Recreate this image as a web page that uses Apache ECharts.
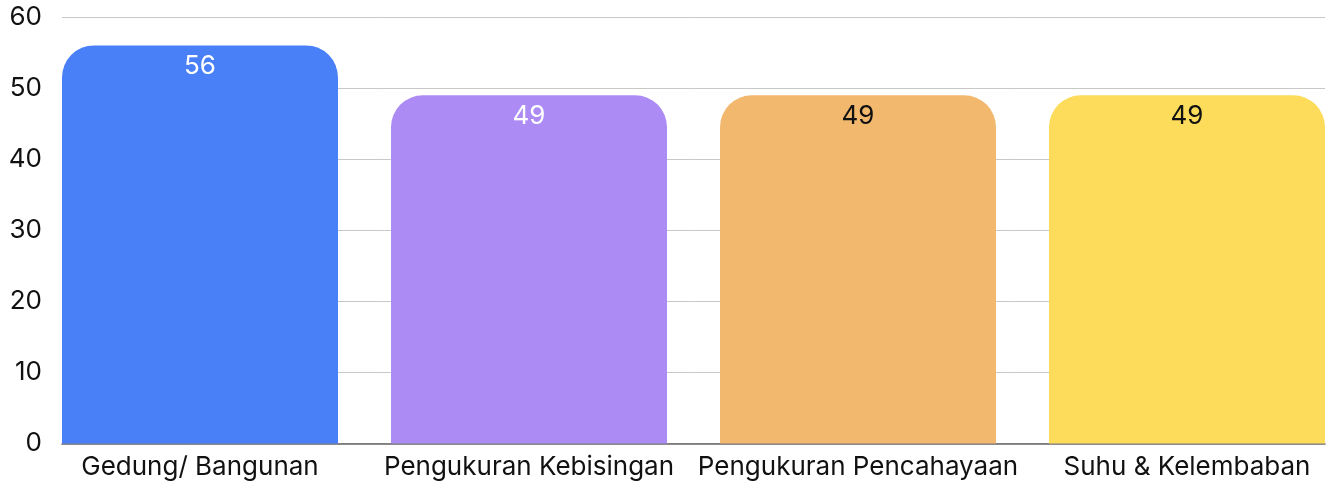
<!DOCTYPE html>
<html>
<head>
<meta charset="utf-8">
<script src="https://cdn.jsdelivr.net/npm/echarts@6/dist/echarts.min.js"></script>
<style>
  html, body { margin: 0; padding: 0; background: #fff; }
  #main { width: 1330px; height: 486px; }
</style>
</head>
<body>
<div id="main"></div>
<script>
// data
var categories = ['Gedung/ Bangunan', 'Pengukuran Kebisingan', 'Pengukuran Pencahayaan', 'Suhu & Kelembaban'];
var values = [56, 49, 49, 49];
var yTicks = [0, 10, 20, 30, 40, 50, 60];

// colours per bar
var barColors = ['#4a80f7', '#ad8bf4', '#f2b86e', '#fddc5b'];
var labelColors = ['#ffffff', '#ffffff', '#111111', '#111111'];

var font = 'Inter, "Noto Sans", sans-serif';

// bars sit on a value x axis so the outer bars touch the plot edges
var barWidth = 276;
var step = 329;               // px between bar centres
var edge = (barWidth / 2) / step;

var seriesData = [];
var positions = [];
for (var i = 0; i < values.length; i++) {
    positions.push(i);
    seriesData.push({
        value: [i, values[i]],
        itemStyle: { color: barColors[i] },
        label: { color: labelColors[i] }
    });
}

var myChart = echarts.init(document.getElementById('main'));

var option = {
    animation: false,
    textStyle: { fontFamily: font },
    grid: { left: 62, right: 5, top: 17, bottom: 42.5 },
    xAxis: {
        type: 'value',
        min: -edge,
        max: values.length - 1 + edge,
        axisLine: { show: true, onZero: false, lineStyle: { color: '#666', width: 1.5 } },
        axisTick: { show: false },
        splitLine: { show: false },
        axisLabel: {
            customValues: positions,
            color: '#111',
            fontSize: 26,
            fontFamily: font,
            margin: 11,
            formatter: function (v) {
                return categories[Math.round(v)];
            }
        }
    },
    yAxis: {
        type: 'value',
        min: yTicks[0],
        max: yTicks[yTicks.length - 1],
        interval: 10,
        axisLine: { show: false },
        axisTick: { show: false },
        axisLabel: { color: '#111', fontSize: 26, fontFamily: font, margin: 20 },
        splitLine: { lineStyle: { color: '#c8c8c8', width: 1 } }
    },
    series: [
        {
            type: 'bar',
            data: seriesData,
            barWidth: barWidth,
            itemStyle: { borderRadius: [32, 32, 0, 0] },
            label: {
                show: true,
                position: 'insideTop',
                distance: 8,
                fontSize: 26,
                fontFamily: font,
                formatter: function (p) { return p.value[1]; }
            }
        }
    ]
};

myChart.setOption(option);
</script>
</body>
</html>
